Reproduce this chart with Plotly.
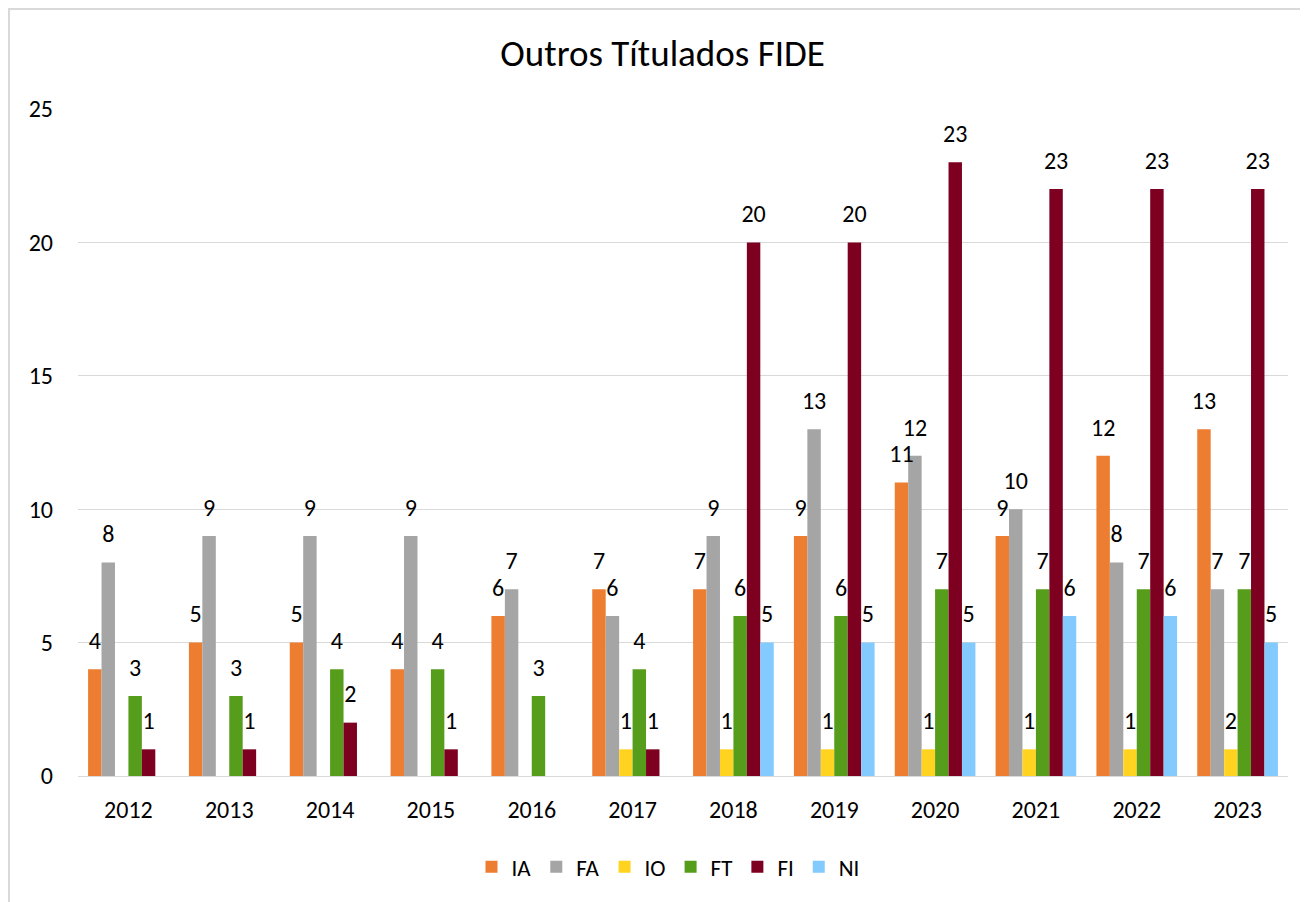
import plotly.graph_objects as go

years = ["2012", "2013", "2014", "2015", "2016", "2017", "2018", "2019", "2020", "2021", "2022", "2023"]
series_names = ["IA", "FA", "IO", "FT", "FI", "NI"]

ia_values = [4, 5, 5, 4, 6, 7, 7, 9, 11, 9, 12, 13]
fa_values = [8, 9, 9, 9, 7, 6, 9, 13, 12, 10, 8, 7]
io_values = [0, 0, 0, 0, 0, 1, 1, 1, 1, 1, 1, 1]
ft_values = [3, 3, 4, 4, 3, 4, 6, 6, 7, 7, 7, 7]
fi_values = [1, 1, 2, 1, 0, 1, 20, 20, 23, 22, 22, 22]
ni_values = [0, 0, 0, 0, 0, 0, 5, 5, 5, 6, 6, 5]

ia_labels = ["4", "5", "5", "4", "6", "7", "7", "9", "11", "9", "12", "13"]
fa_labels = ["8", "9", "9", "9", "7", "6", "9", "13", "12", "10", "8", "7"]
io_labels = ["", "", "", "", "", "1", "1", "1", "1", "1", "1", "2"]
ft_labels = ["3", "3", "4", "4", "3", "4", "6", "6", "7", "7", "7", "7"]
fi_labels = ["1", "1", "2", "1", "", "1", "20", "20", "23", "23", "23", "23"]
ni_labels = ["", "", "", "", "", "", "5", "5", "5", "6", "6", "5"]

colors = ["#ED7D31", "#A5A5A5", "#FFD320", "#579D1C", "#7E0021", "#83CAFF"]
values = [ia_values, fa_values, io_values, ft_values, fi_values, ni_values]
labels = [ia_labels, fa_labels, io_labels, ft_labels, fi_labels, ni_labels]

FONT = "Calibri, Carlito, Lato, sans-serif"
LABEL_GAP = 0.42  # spacing (axis units) between bar top and its label

fig = go.Figure()
for name, vals, col in zip(series_names, values, colors):
    fig.add_trace(go.Bar(
        x=years, y=vals, name=name, offsetgroup=name,
        marker=dict(color=col, line=dict(width=0)),
        hoverinfo="skip",
    ))
for name, vals, labs in zip(series_names, values, labels):
    fig.add_trace(go.Bar(
        x=years, y=[LABEL_GAP] * len(vals), base=vals, offsetgroup=name,
        marker=dict(color="rgba(0,0,0,0)", line=dict(width=0)),
        text=labs, textposition="outside", constraintext="none",
        textfont=dict(family=FONT, size=24, color="#000000"),
        cliponaxis=False, showlegend=False, hoverinfo="skip",
    ))

fig.update_layout(
    width=1300, height=894,
    paper_bgcolor="white", plot_bgcolor="white",
    margin=dict(l=70, r=20, t=101, b=126, autoexpand=False),
    barmode="group", bargap=0.2, bargroupgap=0,
    font=dict(family=FONT, size=24, color="#000000"),
    title=dict(text="Outros Títulados FIDE", x=0.5035, xref="container", xanchor="center",
               y=0.9497, yref="container", yanchor="middle",
               font=dict(family=FONT, size=37, color="#000000")),
    xaxis=dict(type="category", showgrid=False, showline=False, ticks="",
               tickfont=dict(family=FONT, size=24, color="#000000"), ticklabelstandoff=17),
    yaxis=dict(range=[0, 25], dtick=5, showgrid=True, gridcolor="#D9D9D9", gridwidth=1.3,
               zeroline=True, zerolinecolor="#D9D9D9", zerolinewidth=1.3, showline=False,
               ticks="", ticklabelstandoff=24,
               tickfont=dict(family=FONT, size=24, color="#000000")),
    legend=dict(orientation="h", x=0.4876, xanchor="center", y=-0.136, yanchor="middle",
                font=dict(family=FONT, size=23, color="#000000"), itemwidth=30,
                traceorder="normal"),
    shapes=[dict(type="rect", xref="paper", yref="paper", x0=-0.057, x1=1.2, y0=-0.5, y1=1.15,
                 line=dict(color="#D9D9D9", width=2), layer="below")],
)

fig.write_html("out.html")
